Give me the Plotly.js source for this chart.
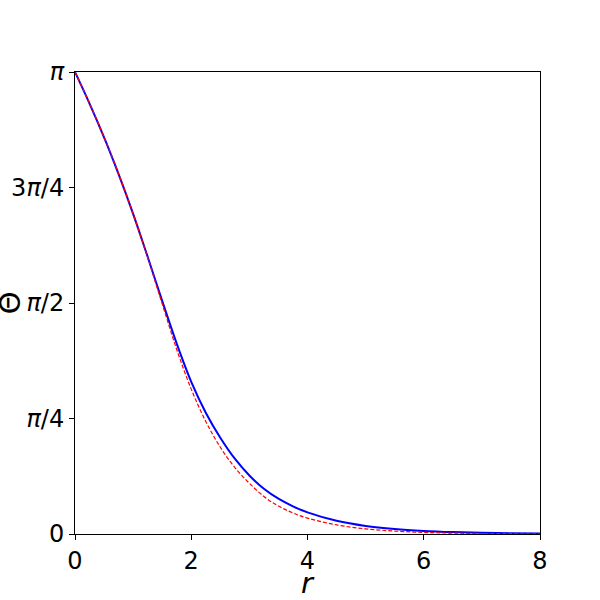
<!DOCTYPE html>
<html>
<head>
<meta charset="utf-8">
<script src="https://cdn.plot.ly/plotly-3.0.1.min.js"></script>
<style>html,body{margin:0;padding:0;background:#fff;}#chart{width:600px;height:600px;}</style>
</head>
<body>
<div id="chart"></div>
<script>
const r = [0, 0.25, 0.5, 0.75, 1.0, 1.25, 1.5, 1.75, 2.0, 2.25, 2.5, 2.75, 3.0, 3.25, 3.5, 3.75, 4.0, 4.5, 5.0, 5.5, 6.0, 6.5, 7.0, 7.5, 8.0];
const thetaNumeric = [3.1416, 2.927, 2.697, 2.447, 2.177, 1.885, 1.585, 1.295, 1.035, 0.825, 0.655, 0.512, 0.398, 0.308, 0.240, 0.188, 0.147, 0.090, 0.055, 0.034, 0.021, 0.013, 0.008, 0.005, 0.003];
const thetaAnsatz = [3.1416, 2.929, 2.700, 2.450, 2.178, 1.880, 1.565, 1.255, 0.985, 0.765, 0.590, 0.452, 0.345, 0.255, 0.190, 0.143, 0.108, 0.062, 0.035, 0.020, 0.011, 0.006, 0.0035, 0.002, 0.001];
const yTickVals = [0, Math.PI/4, Math.PI/2, 3*Math.PI/4, Math.PI];
const yTickText = ["0", "<i>π</i>/4", "<i>π</i>/2", "3<i>π</i>/4", "<i>π</i>"];
const xTickVals = [0, 2, 4, 6, 8];

const font = {family: "DejaVu Sans, sans-serif", size: 24, color: "#000"};
const traces = [
  {x: r, y: thetaNumeric, mode: "lines", line: {color: "#0000ff", width: 2, shape: "spline", smoothing: 1}, hoverinfo: "skip"},
  {x: r, y: thetaAnsatz, mode: "lines", line: {color: "#ff0000", width: 1.2, dash: "4px,2px", shape: "spline", smoothing: 1}, hoverinfo: "skip"}
];
const layout = {
  width: 600, height: 600,
  margin: {l: 75, r: 60, t: 72, b: 66},
  paper_bgcolor: "#fff", plot_bgcolor: "#fff",
  showlegend: false,
  font: font,
  xaxis: {range: [0, 8], tickvals: xTickVals, ticks: "outside", ticklen: 5, tickwidth: 1, tickcolor: "#000",
          showline: true, linecolor: "#000", linewidth: 1, mirror: true, showgrid: false, zeroline: false,
          tickfont: font},
  yaxis: {range: [0, Math.PI], tickvals: yTickVals, ticktext: yTickText, ticks: "outside", ticklen: 5, tickwidth: 1, tickcolor: "#000",
          showline: true, linecolor: "#000", linewidth: 1, mirror: true, showgrid: false, zeroline: false,
          tickfont: font},
  annotations: [
    {text: "<i>r</i>", xref: "paper", yref: "paper", x: 0.5, y: -0.106, xanchor: "center", yanchor: "middle",
     showarrow: false, borderpad: 0, font: {family: "DejaVu Sans, sans-serif", size: 29, color: "#000"}},
    {text: "Θ", xref: "paper", yref: "paper", x: -0.139, y: 0.5, xanchor: "center", yanchor: "middle", textangle: -90,
     showarrow: false, borderpad: 0, font: {family: "DejaVu Sans, sans-serif", size: 29, color: "#000"}}
  ]
};
Plotly.newPlot("chart", traces, layout, {staticPlot: true});
</script>
</body>
</html>
